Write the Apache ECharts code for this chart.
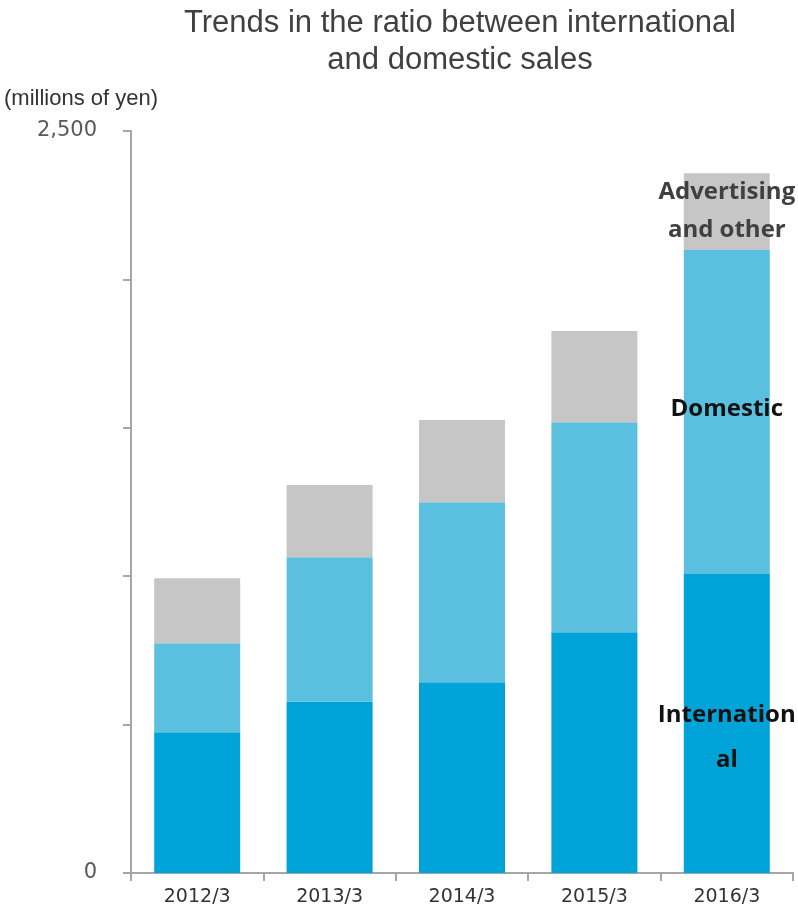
<!DOCTYPE html>
<html><head><meta charset="utf-8">
<script src="https://cdn.jsdelivr.net/npm/echarts@6/dist/echarts.min.js"></script>
<style>html,body{margin:0;padding:0;background:#fff}#c{width:798px;height:910px}</style>
</head><body><div id="c"></div>
<script>
var categories = ['2012/3','2013/3','2014/3','2015/3','2016/3'];
var international = [474, 578, 643, 811, 1007];
var domestic = [300, 486, 606, 708, 1092];
var advertising = [219, 243, 277, 307, 259];
var seriesNames = ['Internation\nal', 'Domestic', 'Advertising\nand other'];
var yTickLabels = {0: '0', 2500: '2,500'};

function lastLabel(color, lh, off){
  return {
    show: true, position: 'inside', offset: off || [0, 0],
    formatter: function(p){ return p.dataIndex === categories.length - 1 ? p.seriesName : ''; },
    color: color, fontFamily: 'Open Sans', fontWeight: 'bold', fontSize: 24, lineHeight: lh
  };
}
var chart = echarts.init(document.getElementById('c'), null, {renderer:'canvas'});
chart.setOption({
  animation: false,
  title: {
    text: 'Trends in the ratio between international\nand domestic sales',
    left: 455, textAlign: 'center', top: 0,
    textStyle: {fontFamily: 'Liberation Sans', fontWeight: 'normal', fontSize: 31, color: '#404040', lineHeight: 37}
  },
  graphic: [{
    type: 'text', left: 4, top: 88,
    style: {text: '(millions of yen)', font: '22px "Liberation Sans"', fill: '#333'}
  }],
  grid: {left: 131, right: 5, top: 131, bottom: 37},
  xAxis: {
    type: 'category', data: categories,
    axisLine: {lineStyle: {color: '#a6a6a6', width: 2}},
    axisTick: {show: true, length: 8, lineStyle: {color: '#a6a6a6', width: 2}},
    axisLabel: {fontFamily: 'DejaVu Sans', fontSize: 19, color: '#333', margin: 15}
  },
  yAxis: {
    type: 'value', min: 0, max: 2500, interval: 500,
    splitLine: {show: false},
    axisLine: {show: true, lineStyle: {color: '#a6a6a6', width: 2}},
    axisTick: {show: true, length: 8, lineStyle: {color: '#a6a6a6', width: 2}},
    axisLabel: {
      formatter: function(v){ return yTickLabels[v] !== undefined ? yTickLabels[v] : ''; },
      fontFamily: 'DejaVu Sans', fontSize: 21, color: '#595959', margin: 34
    }
  },
  series: [
    {name: seriesNames[0], type: 'bar', stack: 's', data: international, barWidth: 86,
     itemStyle: {color: '#00a3d7'}, label: lastLabel('#111', 45, [0, 14])},
    {name: seriesNames[1], type: 'bar', stack: 's', data: domestic,
     itemStyle: {color: '#5bc0e0'}, label: lastLabel('#111', 38, [0, -3])},
    {name: seriesNames[2], type: 'bar', stack: 's', data: advertising,
     itemStyle: {color: '#c6c6c6'}, label: lastLabel('#404040', 38)}
  ]
});
</script></body></html>
